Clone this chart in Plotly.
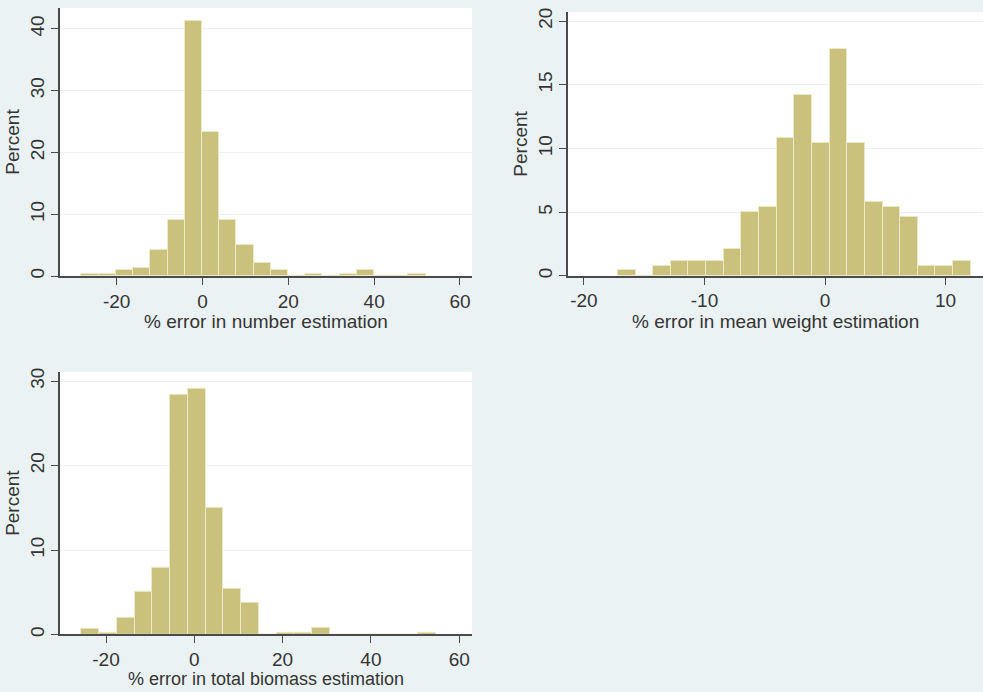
import plotly.graph_objects as go

# ---- data ----
# Panel 1: % error in number estimation
num_bin_start = -28.2
num_bin_width = 4.01
num_percent = [0.3, 0.4, 1.0, 1.4, 4.2, 9.1, 41.3, 23.3, 9.1, 5.1, 2.1, 1.0,
               0.0, 0.4, 0.0, 0.4, 1.0, 0.0, 0.0, 0.4]

# Panel 2: % error in mean weight estimation
mw_bin_start = -17.18
mw_bin_width = 1.463
mw_percent = [0.5, 0.0, 0.8, 1.2, 1.2, 1.2, 2.1, 5.0, 5.4, 10.8, 14.2, 10.4,
              17.8, 10.4, 5.8, 5.4, 4.6, 0.8, 0.8, 1.2]

# Panel 3: % error in total biomass estimation
bio_bin_start = -25.6
bio_bin_width = 4.02
bio_percent = [0.7, 0.2, 2.0, 5.0, 7.9, 28.4, 29.1, 15.0, 5.4, 3.7, 0.0, 0.2,
               0.2, 0.8, 0.0, 0.0, 0.0, 0.0, 0.0, 0.2]

x_titles = ["% error in number estimation",
            "% error in mean weight estimation",
            "% error in total biomass estimation"]
y_title = "Percent"
x_ticks = [[-20, 0, 20, 40, 60], [-20, -10, 0, 10], [-20, 0, 20, 40, 60]]
y_ticks = [[0, 10, 20, 30, 40], [0, 5, 10, 15, 20], [0, 10, 20, 30]]

# ---- style ----
BG = "#EAF2F3"
BAR = "rgb(201,193,124)"
BAR_LINE = "rgb(236,233,200)"
TXT = "#353535"
AX = "#4a4a4a"
FONT = "Liberation Sans, Arial, sans-serif"
FS = 19

W, H = 983, 692

def centers(start, width, n):
    return [start + width * (i + 0.5) for i in range(n)]

panels = [
    (num_bin_start, num_bin_width, num_percent),
    (mw_bin_start, mw_bin_width, mw_percent),
    (bio_bin_start, bio_bin_width, bio_percent),
]

# pixel geometry of each plot region: (left, right, top, bottom), axis ranges,
# vertical pixel centre and font size of the x-axis title
geom = [
    dict(px=(60, 472, 4, 274.5), xr=[-33.2, 62.8], yr=[0, 43.37], title_y=320, tfs=19),
    dict(px=(568, 983, 8, 274.3), xr=[-21.32, 13.10], yr=[0, 20.72], title_y=320, tfs=19),
    dict(px=(60, 472, 371, 636), xr=[-30.42, 62.9], yr=[0, 31.1], title_y=680.5, tfs=18),
]

fig = go.Figure()
layout = dict(
    width=W, height=H,
    margin=dict(l=0, r=0, t=0, b=0),
    paper_bgcolor=BG, plot_bgcolor="white",
    showlegend=False,
    font=dict(family=FONT, size=FS, color=TXT),
    bargap=0,
)
annotations = []

for i, ((start, width, vals), g) in enumerate(zip(panels, geom)):
    n = i + 1
    xa = "x" if n == 1 else f"x{n}"
    ya = "y" if n == 1 else f"y{n}"
    fig.add_trace(go.Bar(
        x=centers(start, width, len(vals)), y=vals, width=width,
        marker=dict(color=BAR, line=dict(color=BAR_LINE, width=1)),
        xaxis=xa, yaxis=ya, hoverinfo="skip",
    ))
    l, r, t, b = g["px"]
    xd = [l / W, r / W]
    yd = [1 - b / H, 1 - t / H]
    xkey = "xaxis" if n == 1 else f"xaxis{n}"
    ykey = "yaxis" if n == 1 else f"yaxis{n}"
    layout[xkey] = dict(
        domain=xd, range=g["xr"], anchor=ya,
        tickmode="array", tickvals=x_ticks[i], ticktext=[str(v) for v in x_ticks[i]],
        ticks="outside", ticklen=7, tickwidth=1, tickcolor=AX,
        showline=True, linecolor=AX, linewidth=1.5,
        showgrid=False, zeroline=False,
        tickfont=dict(size=FS, color=TXT),
    )
    layout[ykey] = dict(
        domain=yd, range=g["yr"], anchor=xa,
        tickmode="array", tickvals=y_ticks[i], ticktext=[str(v) for v in y_ticks[i]],
        ticks="outside", ticklen=7, tickwidth=1, tickcolor=AX, tickangle=-90,
        showline=True, linecolor=AX, linewidth=1.5,
        showgrid=True, gridcolor="#EDF2F2", gridwidth=1, zeroline=False,
        title=dict(text=y_title, standoff=2, font=dict(size=FS, color=TXT)),
        tickfont=dict(size=FS, color=TXT),
    )
    annotations.append(dict(
        text=x_titles[i], xref="paper", yref="paper",
        x=(xd[0] + xd[1]) / 2, y=1 - g["title_y"] / H,
        xanchor="center", yanchor="middle", showarrow=False,
        font=dict(size=g["tfs"], color=TXT),
    ))

layout["annotations"] = annotations
fig.update_layout(**layout)
fig.write_html("out.html")
